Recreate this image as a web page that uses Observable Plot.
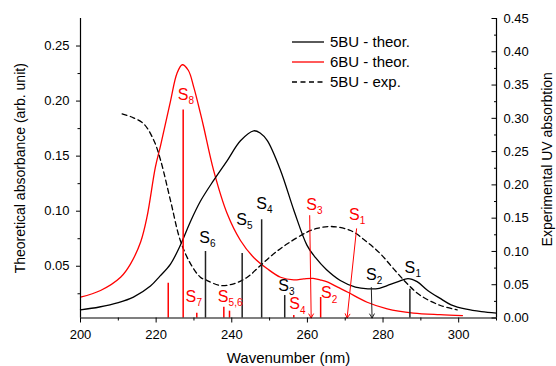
<!DOCTYPE html>
<html><head><meta charset="utf-8">
<script src="https://cdn.jsdelivr.net/npm/d3@7"></script>
<script src="https://cdn.jsdelivr.net/npm/@observablehq/plot@0.6"></script>
<style>
html,body{margin:0;padding:0;background:#fff;}
#chart{position:relative;width:556px;height:366px;}
#chart svg{display:block;}
#overlay{position:absolute;left:0;top:0;pointer-events:none;}
</style></head><body><div id="chart"></div>
<script>
// ---- data ----
// 5BU theoretical spectrum (left axis)
const wl5BU = [200,205,210,214,218.5,221,223.8,226.4,229,231.7,235.2,238.8,242.3,245.8,247.5,249.4,252.9,256.5,259.9,262.1,265,268.7,272.7,276,279,281.1,284,286.6,289,291.8,295,298,302,306,310];
const th5BU = [0.0104,0.013,0.017,0.022,0.032,0.041,0.052,0.069,0.09,0.109,0.128,0.146,0.164,0.173,0.171,0.164,0.137,0.1,0.069,0.058,0.047,0.037,0.031,0.0295,0.030,0.0325,0.036,0.0388,0.036,0.028,0.021,0.015,0.011,0.0088,0.0075];
// 6BU theoretical spectrum (left axis)
const wl6BU = [200,205.3,210.6,213.2,215.9,217.6,219.8,221.2,223.8,225.5,226.9,228.5,230,231.7,232.6,235.2,238.8,242.3,245.8,249.4,252.9,256.4,259,261.5,263.5,265.4,268,270.7,275.8,281.1,288,295,301];
const th6BU = [0.0219,0.028,0.040,0.052,0.072,0.095,0.14,0.160,0.200,0.225,0.233,0.228,0.212,0.189,0.176,0.137,0.0976,0.0734,0.058,0.0477,0.040,0.0376,0.0385,0.039,0.0375,0.0355,0.031,0.0264,0.0173,0.0113,0.0075,0.006,0.0052];
// 5BU experimental UV absorption (right axis)
const wlExp = [211,213.5,216.7,219.4,221.2,223.8,226.4,229.1,231.7,233.5,237,240.5,244.1,247.6,251.1,254.7,259.9,262.5,266.1,271.4,275.8,279.3,282.8,286.4,289.9,295.2,299.6];
const exp5BU = [0.3068,0.302,0.2918,0.2667,0.2366,0.1765,0.1164,0.0814,0.0613,0.0563,0.0488,0.0514,0.0613,0.0789,0.0965,0.1115,0.129,0.1345,0.1375,0.1315,0.1139,0.0965,0.0739,0.0514,0.0338,0.0188,0.0123];
// computed transitions (sticks)
const stick5BU_nm = [233.05,242.75,247.9,254.0,287.1];
const stick5BU_f  = [0.0634,0.0616,0.0922,0.0234,0.029];
const stick6BU_nm = [223.2,227.15,230.75,237.9,239.4,256.4,263.5];
const stick6BU_f  = [0.0346,0.192,0.0074,0.0128,0.0092,0.0053,0.0216];
// weak transitions marked with arrows
const arrow5BU_nm = [277.1];
const arrow5BU_tailX = [276.9];
const arrow5BU_tailY = [0.0307];
const arrow6BU_nm = [261.0,270.5];
const arrow6BU_tailX = [260.6,273.0];
const arrow6BU_tailY = [0.096,0.084];
// state labels
const label5BU_sub = ["6","5","4","3","2","1"];
const label5BU_x = [232.8,242.6,247.86,253.7,276.9,287.1];
const label5BU_y = [0.0757,0.0924,0.107,0.0325,0.0425,0.0484];
const label6BU_sub = ["8","7","5,6","4","3","2","1"];
const label6BU_x = [227.1,229.2,237.7,256.6,261.1,265.0,272.4];
const label6BU_y = [0.206,0.0225,0.0225,0.0155,0.106,0.0257,0.097];
// axes
const xMajor = [200,220,240,260,280,300];
const xMinor = [210,230,250,270,290,310];
const yLeftMajor = [0.05,0.10,0.15,0.20,0.25];
const yLeftMinor = [0.025,0.075,0.125,0.175,0.225];
const yRightMajor = [0,0.05,0.10,0.15,0.20,0.25,0.30,0.35,0.40,0.45];
const yRightMinor = [0.025,0.075,0.125,0.175,0.225,0.275,0.325,0.375,0.425];
const yLeftDomain = [0.003,0.275];
const yRightDomain = [0,0.45];
const xDomain = [200,310];
const legendNames = ["5BU - theor.","6BU - theor.","5BU - exp."];

// ---- build ----
const toL = r => yLeftDomain[0] + (r - yRightDomain[0])/(yRightDomain[1]-yRightDomain[0])*(yLeftDomain[1]-yLeftDomain[0]);
const toR = v => yRightDomain[0] + (v - yLeftDomain[0])/(yLeftDomain[1]-yLeftDomain[0])*(yRightDomain[1]-yRightDomain[0]);
const s5 = wl5BU.map((x,i)=>({x, y: th5BU[i]}));
const s6 = wl6BU.map((x,i)=>({x, y: th6BU[i]}));
const se = wlExp.map((x,i)=>({x, y: toL(exp5BU[i])}));
const k5 = stick5BU_nm.map((x,i)=>({x, y: stick5BU_f[i]}));
const k6 = stick6BU_nm.map((x,i)=>({x, y: stick6BU_f[i]}));
const a5 = arrow5BU_nm.map((x,i)=>({x, x1: arrow5BU_tailX[i], y1: arrow5BU_tailY[i]}));
const a6 = arrow6BU_nm.map((x,i)=>({x, x1: arrow6BU_tailX[i], y1: arrow6BU_tailY[i]}));
const l5 = label5BU_sub.map((s,i)=>({s, x: label5BU_x[i], y: label5BU_y[i]}));
const l6 = label6BU_sub.map((s,i)=>({s, x: label6BU_x[i], y: label6BU_y[i]}));
const base = yLeftDomain[0];
const RED = "#ff0000";
const FONT = "'Liberation Sans', Arial, sans-serif";

const chart = Plot.plot({
  width: 556, height: 366,
  marginLeft: 80, marginRight: 60, marginTop: 18, marginBottom: 48.5,
  x: {domain: xDomain},
  y: {domain: yLeftDomain},
  style: {fontFamily: FONT, fontSize: "13px", color: "black", background: "white", overflow: "visible"},
  marks: [
    // curves
    Plot.line(s6, {x: "x", y: "y", stroke: RED, strokeWidth: 1.3, curve: "catmull-rom"}),
    Plot.line(s5, {x: "x", y: "y", stroke: "black", strokeWidth: 1.3, curve: "catmull-rom"}),
    Plot.line(se, {x: "x", y: "y", stroke: "black", strokeWidth: 1.3, strokeDasharray: "5,3.5", curve: "catmull-rom"}),
    // sticks
    Plot.ruleX(k6, {x: "x", y1: () => base, y2: "y", stroke: RED, strokeWidth: 1.5}),
    Plot.ruleX(k5, {x: "x", y1: () => base, y2: "y", stroke: "#222", strokeWidth: 1.5}),
    // arrows
    Plot.arrow(a6, {x1: "x1", y1: "y1", x2: "x", y2: () => base, stroke: RED, strokeWidth: 1, headLength: 7, inset: 0}),
    Plot.arrow(a5, {x1: "x1", y1: "y1", x2: "x", y2: () => base, stroke: "#222", strokeWidth: 1, headLength: 7, inset: 0}),
    // labels
    Plot.text(l5, {x: "x", y: "y", text: () => "S", fill: "black", fontSize: 16}),
    Plot.text(l5, {x: "x", y: "y", text: "s", fill: "black", fontSize: 10, dx: 5.5, dy: 6, textAnchor: "start"}),
    Plot.text(l6, {x: "x", y: "y", text: () => "S", fill: RED, fontSize: 16}),
    Plot.text(l6, {x: "x", y: "y", text: "s", fill: RED, fontSize: 10, dx: 5.5, dy: 6.5, textAnchor: "start"}),
    // axis lines
    Plot.ruleX(xDomain, {stroke: "black", strokeWidth: 1.2}),
    Plot.ruleY([yLeftDomain[0]], {stroke: "black", strokeWidth: 1.2}),
    // x axis
    Plot.axisX({ticks: xMajor, tickSize: 5, tickPadding: 7, tickFormat: d => String(d), label: null}),
    Plot.axisX({ticks: xMinor, tickSize: 3, fill: "none", label: null}),
    // left axis
    Plot.axisY({anchor: "left", ticks: yLeftMajor, tickSize: 4, tickPadding: 7, tickFormat: d3.format(".2f"), label: null}),
    Plot.axisY({anchor: "left", ticks: yLeftMinor, tickSize: 2.5, fill: "none", label: null}),
    // right axis (experimental scale)
    Plot.axisY({anchor: "right", ticks: yRightMajor.map(toL), tickSize: 0, tickPadding: 7, tickFormat: d => toR(d).toFixed(2), label: null}),
    Plot.axisY({anchor: "right", ticks: yRightMajor.map(toL), tickSize: 5.5, dx: -5.5, fill: "none", label: null}),
    Plot.axisY({anchor: "right", ticks: yRightMinor.map(toL), tickSize: 3, dx: -3, fill: "none", label: null}),
    // titles
    Plot.text(["Theoretical absorbance (arb. unit)"], {frameAnchor: "left", text: d => d, rotate: -90, dx: -60, textAnchor: "middle", lineAnchor: "middle", fontSize: 14, fill: "black"}),
    Plot.text(["Experimental UV absorbtion"], {frameAnchor: "right", text: d => d, rotate: -90, dx: 51, dy: -9, textAnchor: "middle", lineAnchor: "middle", fontSize: 14, fill: "black"}),
    Plot.text(["Wavenumber (nm)"], {frameAnchor: "bottom", text: d => d, dy: 40.5, textAnchor: "middle", lineAnchor: "middle", fontSize: 15, fill: "black"})
  ]
});
document.getElementById("chart").appendChild(chart);

// legend overlay
const ov = d3.select("#chart").append("svg").attr("id","overlay").attr("width",556).attr("height",366);
const legendStyles = [{stroke:"black", dash:null},{stroke:RED, dash:null},{stroke:"black", dash:"5,3.5"}];
legendNames.forEach((name,i) => {
  const y = 42 + i*20;
  ov.append("line").attr("x1",292).attr("x2",324).attr("y1",y).attr("y2",y)
    .attr("stroke",legendStyles[i].stroke).attr("stroke-width",1.3)
    .attr("stroke-dasharray",legendStyles[i].dash);
  ov.append("text").attr("x",330).attr("y",y+5.3).text(name)
    .attr("font-family",FONT).attr("font-size",15).attr("fill","black");
});
</script></body></html>
